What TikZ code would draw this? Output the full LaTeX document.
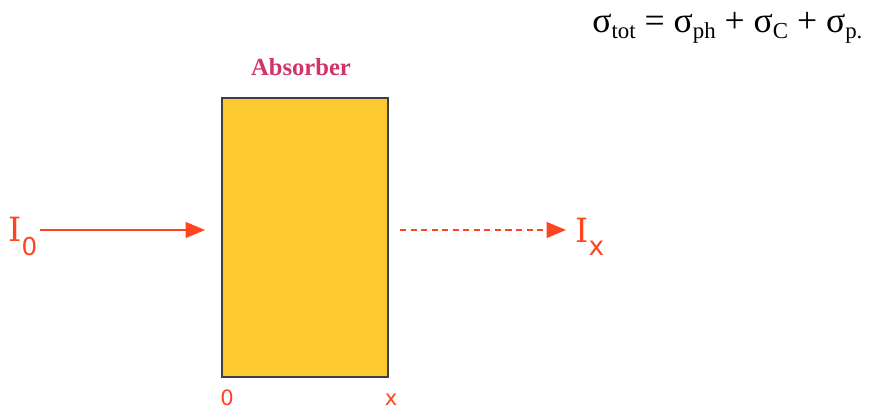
\documentclass[tikz,border=0pt]{standalone}
\usepackage{fontspec}
\setmainfont{Liberation Serif}
\newfontfamily\labelfont{DejaVu Sans}
\newfontfamily\beamfont{DejaVu Serif}
\usetikzlibrary{arrows.meta,positioning}

\definecolor{beam}{HTML}{FF4422}
\definecolor{slab}{HTML}{FDC931}
\definecolor{slabtag}{HTML}{D1346C}

\tikzset{
  beamarrow/.style={draw=beam, line width=0.9pt, -{Triangle[length=11pt,width=9pt]}},
  beamlabel/.style={text=beam, inner sep=0pt, font=\beamfont\fontsize{19}{19}\selectfont},
  axislabel/.style={text=beam, inner sep=0pt, font=\labelfont\fontsize{12}{12}\selectfont}
}
\newcommand{\sub}[1]{\raisebox{-0.35ex}{\fontsize{13}{14}\selectfont #1}}

\begin{document}
\begin{tikzpicture}[x=0.02cm,y=-0.02cm]
\useasboundingbox (0,0) rectangle (891,411);

% absorber slab
\node (slab) [draw=black!75, line width=0.8pt, fill=slab, minimum width=166*0.02cm,
  minimum height=279*0.02cm, inner sep=0pt] at (305,237.5) {};
\node (tag) [text=slabtag, font=\bfseries\fontsize{14}{14}\selectfont] at (301,67) {Absorber};

% beam intensities
\node (Izero) [beamlabel, anchor=base west] at (8,242) {I\raisebox{-0.8ex}{\labelfont\fontsize{14}{14}\selectfont 0}};
\node (Ix) [beamlabel, anchor=base west] at (575,243) {I\raisebox{-0.7ex}{\labelfont\fontsize{15}{15}\selectfont x}};
\coordinate (start) at (40,230);
\coordinate (infront) at (205,230);
\coordinate (behind) at (400,230);
\coordinate (Ixtip) at (566,230);

\draw[beamarrow] (start) -- (infront);
\draw[beamarrow, dashed, dash pattern=on 3.5pt off 2.5pt] (behind) -- (Ixtip);

% thickness marks
\node (zero) [axislabel] at (227,398) {0};
\node (thick) [axislabel] at (391,400) {x};

% cross section
\node (sigma) [anchor=base west, inner sep=0pt, font=\fontsize{20.3}{24}\selectfont] at (592,33)
  {σ\sub{tot} = σ\sub{ph} + σ\sub{C} + σ\sub{p.}};
\end{tikzpicture}
\end{document}
